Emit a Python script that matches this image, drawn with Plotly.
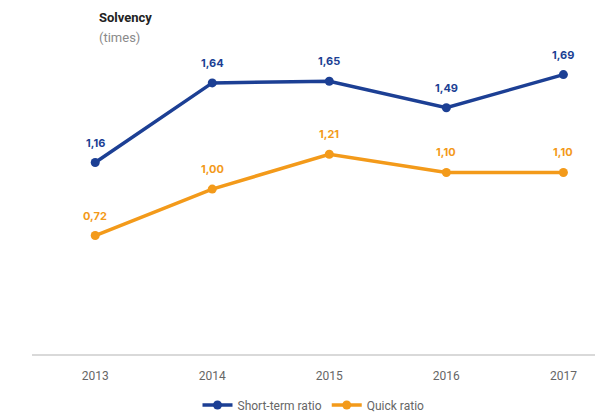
import plotly.graph_objects as go

years = ["2013", "2014", "2015", "2016", "2017"]
short_term = [1.16, 1.64, 1.65, 1.49, 1.69]
quick = [0.72, 1.00, 1.21, 1.10, 1.10]

BLUE = "#1c3f94"
ORANGE = "#f39a1a"
x_idx = list(range(len(years)))

fig = go.Figure()
fig.add_trace(go.Scatter(
    x=x_idx, y=short_term, name="Short-term ratio", mode="lines+markers",
    line=dict(color=BLUE, width=3.5), marker=dict(size=9, color=BLUE),
))
fig.add_trace(go.Scatter(
    x=x_idx, y=quick, name="Quick ratio", mode="lines+markers",
    line=dict(color=ORANGE, width=3.5), marker=dict(size=9, color=ORANGE),
))

def fmt(v):
    return f"{v:.2f}".replace(".", ",")

for vals, col in ((short_term, BLUE), (quick, ORANGE)):
    for xi, v in zip(x_idx, vals):
        fig.add_annotation(
            x=xi, y=v, text=f"<b>{fmt(v)}</b>", showarrow=False,
            yshift=20, font=dict(family="Inter, Roboto, sans-serif", size=11, color=col),
        )

# chart heading, top-left
fig.add_annotation(
    xref="paper", yref="paper", x=0.115, y=1.0, yanchor="middle", xanchor="left",
    text="<b>Solvency</b>", showarrow=False, yshift=41,
    font=dict(family="Roboto, sans-serif", size=13, color="#222222"),
)
fig.add_annotation(
    xref="paper", yref="paper", x=0.115, y=1.0, yanchor="middle", xanchor="left",
    text="(times)", showarrow=False, yshift=21,
    font=dict(family="Roboto, sans-serif", size=13, color="#8a8a8a"),
)

fig.update_layout(
    width=595, height=417,
    margin=dict(l=32, r=0, t=58, b=62, autoexpand=False),
    paper_bgcolor="white", plot_bgcolor="white",
    showlegend=True,
    legend=dict(orientation="h", x=0.5, xanchor="center", y=-50 / 297, yanchor="middle",
                font=dict(family="Roboto, sans-serif", size=12, color="#666666"),
                tracegroupgap=0),
    xaxis=dict(
        tickmode="array", tickvals=x_idx, ticktext=years,
        range=[-0.54, 4.27], showgrid=False, zeroline=False,
        showline=False, ticks="", ticklabelstandoff=12,
        tickfont=dict(family="Roboto, sans-serif", size=12, color="#666666"),
    ),
    yaxis=dict(range=[0, 1.79], showgrid=False, zeroline=True, zerolinecolor="#d9d9d9",
               zerolinewidth=1.5, showticklabels=False, fixedrange=True),
)

fig.write_html("out.html")
